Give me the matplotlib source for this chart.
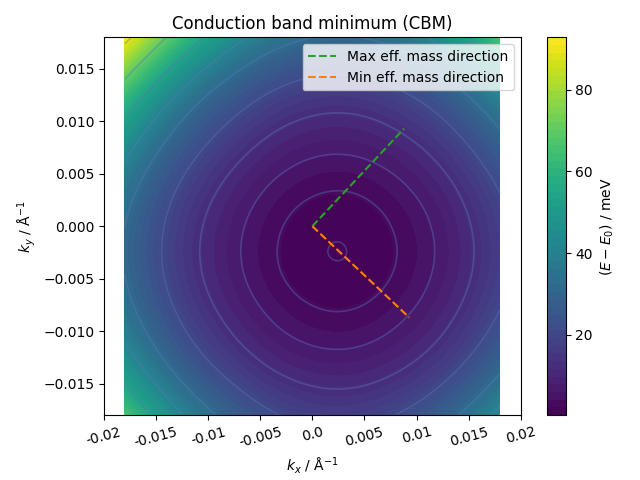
import numpy as np
import matplotlib
matplotlib.use('Agg')
import matplotlib.pyplot as plt
import matplotlib.tri as mtri

# k-grid (1/Angstrom) and band energies (meV)
kx = [-0.018, -0.0135, -0.009, -0.0045, 0.0, 0.0045, 0.009, 0.0135, 0.018]
ky = [-0.018, -0.0135, -0.009, -0.0045, 0.0, 0.0045, 0.009, 0.0135, 0.018]

# one row per ky (bottom to top), one column per kx (left to right)
energy = [
    [66.06, 45.69, 31.39, 22.30, 17.84, 17.69, 21.87, 30.63, 44.56],
    [48.49, 31.56, 19.86, 12.51, 8.92, 8.81, 12.16, 19.24, 30.63],
    [37.31, 22.66, 12.68, 6.48, 3.48, 3.39, 6.18, 12.16, 21.87],
    [31.96, 18.43, 9.29, 3.65, 0.94, 0.86, 3.39, 8.81, 17.69],
    [32.13, 18.58, 9.40, 3.75, 1.03, 0.94, 3.48, 8.92, 17.84],
    [37.88, 23.11, 13.04, 6.78, 3.75, 3.65, 6.48, 12.51, 22.30],
    [49.46, 32.34, 20.48, 13.04, 9.40, 9.29, 12.68, 19.86, 31.39],
    [67.49, 46.83, 32.34, 23.11, 18.58, 18.43, 22.66, 31.56, 45.69],
    [92.82, 67.49, 49.46, 37.88, 32.13, 31.96, 37.31, 48.49, 66.06],
]

line_levels = [2.4, 5.9, 12, 20.5, 32, 41.5, 54, 70, 89]

# effective mass directions, starting at k = 0
max_dir_x = [0.0, 0.0088]
max_dir_y = [0.0, 0.0093]
min_dir_x = [0.0, 0.0093]
min_dir_y = [0.0, -0.0087]

xticks = [-0.02, -0.015, -0.01, -0.005, 0.0, 0.005, 0.01, 0.015, 0.02]
xticklabels = ['-0.02', '-0.015', '-0.01', '-0.005', '0.0', '0.005', '0.01', '0.015', '0.02']

X, Y = np.meshgrid(kx, ky)
E = np.array(energy)

tri = mtri.Triangulation(X.ravel(), Y.ravel())
refiner = mtri.UniformTriRefiner(tri)
tri_f, e_f = refiner.refine_field(E.ravel(), subdiv=4)

fig, ax = plt.subplots(figsize=(6.4, 4.8), dpi=100)

cf = ax.tricontourf(tri_f, e_f, levels=np.linspace(e_f.min(), e_f.max(), 50), cmap='viridis')
# first line sits just above the minimum -> small loop at the CBM
ax.tricontour(tri_f, e_f, levels=[e_f.min() + 0.05] + line_levels,
              colors='#5a78b8', alpha=0.4, linewidths=1.2)

ax.plot(max_dir_x, max_dir_y, '--', color='tab:green', label='Max eff. mass direction')
ax.plot(min_dir_x, min_dir_y, '--', color='tab:orange', label='Min eff. mass direction')

ax.set_xlim(-0.02, 0.02)
ax.set_ylim(-0.018, 0.018)
ax.set_xticks(xticks)
ax.set_xticklabels(xticklabels)
ax.set_xlabel(r'$k_x$ / Å$^{-1}$')
ax.set_ylabel(r'$k_y$ / Å$^{-1}$')
ax.set_title('Conduction band minimum (CBM)')
ax.legend(loc='upper right')

cb = fig.colorbar(cf, ax=ax)
cb.set_ticks([20, 40, 60, 80])
cb.set_label(r'$(E - E_0)$ / meV')

fig.tight_layout()
# labels get tilted after the layout is fixed
plt.setp(ax.get_xticklabels(), rotation=15)
fig.savefig('out.png')
